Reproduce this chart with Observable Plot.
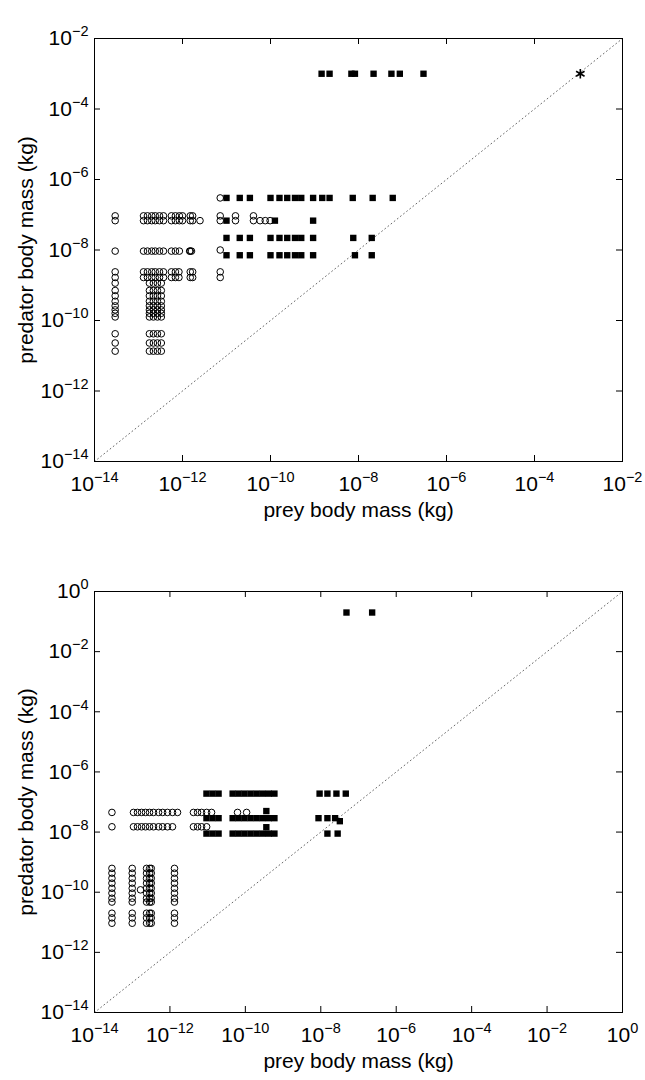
<!DOCTYPE html>
<html>
<head>
<meta charset="utf-8">
<script src="https://cdn.jsdelivr.net/npm/d3@7"></script>
<script src="https://cdn.jsdelivr.net/npm/@observablehq/plot@0.6"></script>
<style>
  html, body { margin: 0; padding: 0; background: #fff; }
  #wrap { position: relative; width: 645px; height: 1080px; font-family: "Liberation Sans", Arial, Helvetica, sans-serif; }
  .plabel { position: absolute; font-size: 21px; color: #000; line-height: 1; }
  .panel { position: absolute; left: 0; }
</style>
</head>
<body>
<div id="wrap">
  <div class="plabel" style="left:5px; top:7px;">(b)</div>
  <div class="panel" id="pb" style="top:0px;"></div>
  <div class="plabel" style="left:4px; top:558px;">(c)</div>
  <div class="panel" id="pc" style="top:540px;"></div>
</div>
<script>
// ---------------- Labels ----------------
const xLabel = "prey body mass (kg)";
const yLabel = "predator body mass (kg)";

// ---------------- Panel (b) ----------------
const bXTicks = [1e-14, 1e-12, 1e-10, 1e-8, 1e-6, 1e-4, 1e-2];
const bYTicks = [1e-14, 1e-12, 1e-10, 1e-8, 1e-6, 1e-4, 1e-2];
const bDomain = [1e-14, 1e-2];

// open circles: [predator mass y, [prey masses x]]
const bCircleRows = [
  [3.0e-7, [7.2e-12]],
  [9.3e-8, [2.95e-14, 1.3e-13, 1.6e-13, 2.0e-13, 2.4e-13, 3.0e-13, 3.7e-13, 5.6e-13, 6.9e-13, 8.5e-13, 1.0e-12, 1.5e-12, 1.7e-12, 7.2e-12, 1.6e-11, 4.1e-11]],
  [6.8e-8, [2.95e-14, 1.3e-13, 1.6e-13, 2.0e-13, 2.4e-13, 3.0e-13, 3.7e-13, 5.6e-13, 6.9e-13, 8.5e-13, 1.0e-12, 1.5e-12, 1.7e-12, 2.5e-12, 7.2e-12, 1.6e-11, 4.1e-11, 5.8e-11, 7.6e-11, 9.8e-11]],
  [1.0e-8, [7.2e-12]],
  [9.3e-9, [2.95e-14, 1.3e-13, 1.6e-13, 2.0e-13, 2.4e-13, 3.0e-13, 3.7e-13, 5.6e-13, 6.9e-13, 8.5e-13, 1.45e-12, 1.5e-12, 1.6e-12]],
  [2.4e-9, [2.95e-14, 1.3e-13, 1.6e-13, 2.0e-13, 2.4e-13, 3.0e-13, 3.7e-13, 5.6e-13, 6.9e-13, 8.3e-13, 1.5e-12, 1.7e-12, 7.2e-12]],
  [1.66e-9, [2.95e-14, 1.3e-13, 1.6e-13, 2.0e-13, 2.4e-13, 3.0e-13, 3.7e-13, 5.6e-13, 6.9e-13, 8.3e-13, 1.5e-12, 1.7e-12, 7.2e-12]]
];
// vertical columns of open circles: [prey mass x, [predator masses y]]
const bCircleCols = [
  [2.95e-14, [1.15e-9, 7.1e-10, 5.0e-10, 3.5e-10, 2.6e-10, 2.0e-10, 1.6e-10, 1.26e-10, 4.2e-11, 2.3e-11, 1.35e-11]],
  [1.77e-13, [1.15e-9, 7.1e-10, 5.0e-10, 3.5e-10, 2.6e-10, 2.0e-10, 1.6e-10, 1.26e-10, 4.2e-11, 2.3e-11, 1.35e-11]],
  [2.18e-13, [1.15e-9, 7.1e-10, 5.0e-10, 3.5e-10, 2.6e-10, 2.0e-10, 1.6e-10, 1.26e-10, 4.2e-11, 2.3e-11, 1.35e-11]],
  [2.69e-13, [1.15e-9, 7.1e-10, 5.0e-10, 3.5e-10, 2.6e-10, 2.0e-10, 1.6e-10, 1.26e-10, 4.2e-11, 2.3e-11, 1.35e-11]],
  [3.30e-13, [1.15e-9, 7.1e-10, 5.0e-10, 3.5e-10, 2.6e-10, 2.0e-10, 1.6e-10, 1.26e-10, 4.2e-11, 2.3e-11, 1.35e-11]]
];
// filled squares: [predator mass y, [prey masses x]]
const bSquareRows = [
  [1.0e-3, [1.45e-9, 2.2e-9, 6.9e-9, 8.3e-9, 2.2e-8, 5.6e-8, 8.7e-8, 3.0e-7]],
  [3.0e-7, [1.0e-11, 2.0e-11, 3.4e-11, 1.0e-10, 1.6e-10, 2.4e-10, 3.6e-10, 5.0e-10, 9.3e-10, 1.5e-9, 2.2e-9, 7.4e-9, 2.1e-8, 6.0e-8]],
  [6.8e-8, [1.0e-11, 1.26e-10, 9.3e-10]],
  [2.2e-8, [1.0e-11, 2.0e-11, 3.4e-11, 1.0e-10, 1.6e-10, 2.4e-10, 3.6e-10, 5.0e-10, 9.3e-10, 7.6e-9, 2.0e-8]],
  [7.1e-9, [1.0e-11, 2.0e-11, 3.4e-11, 1.0e-10, 1.6e-10, 2.4e-10, 3.6e-10, 5.0e-10, 9.3e-10, 8.3e-9, 2.0e-8]]
];
// asterisk point
const bStarX = [1.1e-3];
const bStarY = [1.0e-3];

// ---------------- Panel (c) ----------------
const cXTicks = [1e-14, 1e-12, 1e-10, 1e-8, 1e-6, 1e-4, 1e-2, 1e0];
const cYTicks = [1e-14, 1e-12, 1e-10, 1e-8, 1e-6, 1e-4, 1e-2, 1e0];
const cDomain = [1e-14, 1e0];

const cCircleRows = [
  [4.5e-8, [2.9e-14, 1.08e-13, 1.38e-13, 1.77e-13, 2.25e-13, 2.88e-13, 3.67e-13, 5.0e-13, 6.4e-13, 8.6e-13, 1.17e-12, 1.59e-12, 4.2e-12, 5.4e-12, 6.9e-12, 9.4e-12, 1.27e-11, 6.2e-11, 1.08e-10]],
  [1.5e-8, [2.9e-14, 1.08e-13, 1.38e-13, 1.77e-13, 2.25e-13, 2.88e-13, 3.67e-13, 5.0e-13, 6.4e-13, 8.6e-13, 1.17e-12, 4.2e-12, 5.4e-12, 6.9e-12, 9.4e-12]],
  [1.2e-10, [1.66e-13]]
];
const cCircleCols = [
  [2.9e-14, [6.2e-10, 4.3e-10, 2.9e-10, 2.0e-10, 1.35e-10, 9.3e-11, 6.3e-11, 4.7e-11, 2.0e-11, 1.4e-11, 9.3e-12]],
  [1.0e-13, [6.2e-10, 4.3e-10, 2.9e-10, 2.0e-10, 1.35e-10, 9.3e-11, 6.3e-11, 4.7e-11, 2.0e-11, 1.4e-11, 9.3e-12]],
  [2.4e-13, [6.2e-10, 4.3e-10, 2.9e-10, 2.0e-10, 1.35e-10, 9.3e-11, 6.3e-11, 4.7e-11, 2.0e-11, 1.4e-11, 9.3e-12]],
  [2.9e-13, [6.2e-10, 4.3e-10, 2.9e-10, 2.0e-10, 1.35e-10, 9.3e-11, 6.3e-11, 4.7e-11, 2.0e-11, 1.4e-11, 9.3e-12]],
  [3.2e-13, [6.2e-10, 4.3e-10, 2.9e-10, 2.0e-10, 1.35e-10, 9.3e-11, 6.3e-11, 4.7e-11, 2.0e-11, 1.4e-11, 9.3e-12]],
  [1.32e-12, [6.2e-10, 4.3e-10, 2.9e-10, 2.0e-10, 1.35e-10, 9.3e-11, 6.3e-11, 4.7e-11, 2.0e-11, 1.4e-11, 9.3e-12]]
];
const cSquareRows = [
  [0.2, [4.8e-8, 2.3e-7]],
  [1.9e-7, [9.3e-12, 1.35e-11, 1.95e-11, 4.6e-11, 6.6e-11, 9.5e-11, 1.38e-10, 2.0e-10, 2.9e-10, 4.2e-10, 5.9e-10, 9.3e-9, 1.5e-8, 2.6e-8, 4.6e-8]],
  [5.0e-8, [3.6e-10]],
  [2.9e-8, [9.3e-12, 1.35e-11, 1.95e-11, 4.6e-11, 6.6e-11, 9.5e-11, 1.38e-10, 2.0e-10, 2.9e-10, 4.2e-10, 5.9e-10, 8.7e-9, 1.5e-8, 2.4e-8]],
  [2.3e-8, [3.2e-8]],
  [1.45e-8, [3.6e-10]],
  [8.9e-9, [9.3e-12, 1.35e-11, 1.95e-11, 4.6e-11, 6.6e-11, 9.5e-11, 1.38e-10, 2.0e-10, 2.9e-10, 4.2e-10, 5.9e-10, 1.5e-8, 2.8e-8]]
];

// ---------------- helpers ----------------
const fromRows = rows => rows.flatMap(([y, xs]) => xs.map(x => ({x, y})));
const fromCols = cols => cols.flatMap(([x, ys]) => ys.map(y => ({x, y})));
const fmt = d => "10^" + Math.round(Math.log10(d));

function panel({domain, xTicks, yTicks, circles, squares, stars, height, marginTop, marginBottom}) {
  const width = 645, marginLeft = 94, marginRight = 23;
  const fh = height - marginTop - marginBottom;
  const fw = width - marginLeft - marginRight;
  const tk = 6;
  const svg = Plot.plot({
    width, height, marginLeft, marginRight, marginTop, marginBottom,
    x: {type: "log", domain},
    y: {type: "log", domain},
    style: {fontFamily: "'Liberation Sans', Arial, Helvetica, sans-serif", fontSize: "21px", color: "#000", background: "#fff"},
    marks: [
      Plot.line(domain, {x: d => d, y: d => d, stroke: "#555", strokeWidth: 0.9, strokeDasharray: "0.9,3.1"}),
      Plot.dot(circles, {x: "x", y: "y", r: 3.3, stroke: "#000", strokeWidth: 1, fill: "none"}),
      Plot.dot(squares, {x: "x", y: "y", symbol: "square", r: 3.6, fill: "#000", stroke: "none"}),
      stars ? Plot.dot(stars, {x: "x", y: "y", symbol: "asterisk", r: 4.6, stroke: "#000", strokeWidth: 1.6}) : null,
      Plot.frame({stroke: "#000", strokeWidth: 1}),
      Plot.ruleX(xTicks, {x: d => d, insetTop: fh - tk, stroke: "#000"}),
      Plot.ruleX(xTicks, {x: d => d, insetBottom: fh - tk, stroke: "#000"}),
      Plot.ruleY(yTicks, {y: d => d, insetRight: fw - tk, stroke: "#000"}),
      Plot.ruleY(yTicks, {y: d => d, insetLeft: fw - tk, stroke: "#000"}),
      Plot.axisX(xTicks, {tickSize: 0, tickPadding: 15, tickFormat: fmt, label: null, fontSize: 21}),
      Plot.axisY(yTicks, {tickSize: 0, tickPadding: 6, tickFormat: fmt, label: null, fontSize: 21}),
      Plot.text([xLabel], {frameAnchor: "bottom", dy: 55, text: d => d, fontSize: 21, textAnchor: "middle"}),
      Plot.text([yLabel], {frameAnchor: "left", dx: -68, rotate: -90, text: d => d, fontSize: 21, textAnchor: "middle"})
    ]
  });
  // superscript exponents in tick labels
  d3.select(svg).selectAll('g[aria-label="x-axis tick label"] text, g[aria-label="y-axis tick label"] text').each(function () {
    const m = this.textContent.match(/^10\^(-?\d+)$/);
    if (!m) return;
    const sel = d3.select(this);
    sel.text("10");
    sel.append("tspan").attr("dy", -9).attr("font-size", "14.5px").text(m[1].replace("-", "\u2212"));
  });
  return svg;
}

document.getElementById("pb").appendChild(panel({
  domain: bDomain, xTicks: bXTicks, yTicks: bYTicks,
  circles: fromRows(bCircleRows).concat(fromCols(bCircleCols)),
  squares: fromRows(bSquareRows),
  stars: bStarX.map((x, i) => ({x, y: bStarY[i]})),
  height: 540, marginTop: 38, marginBottom: 79
}));
document.getElementById("pc").appendChild(panel({
  domain: cDomain, xTicks: cXTicks, yTicks: cYTicks,
  circles: fromRows(cCircleRows).concat(fromCols(cCircleCols)),
  squares: fromRows(cSquareRows),
  stars: null,
  height: 540, marginTop: 51, marginBottom: 68
}));
</script>
</body>
</html>
